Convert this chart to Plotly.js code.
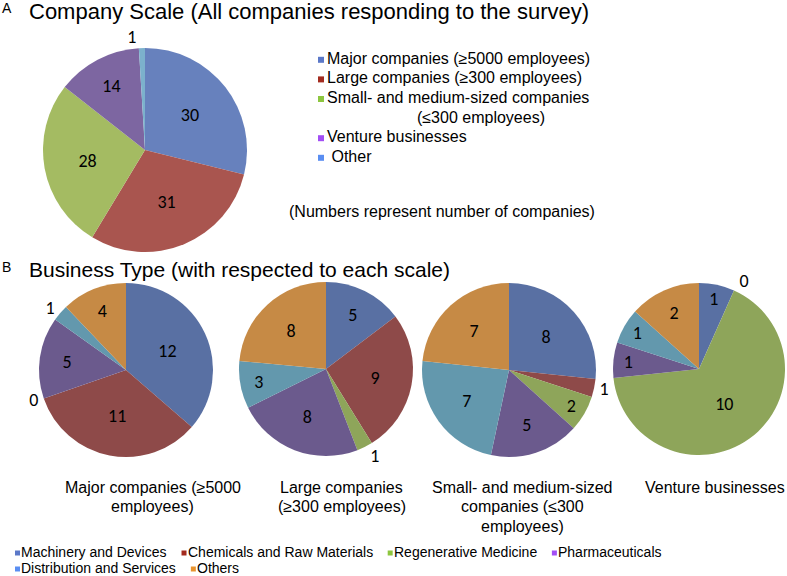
<!DOCTYPE html>
<html>
<head>
<meta charset="utf-8">
<script src="https://cdn.plot.ly/plotly-3.0.1.min.js"></script>
<style>html,body{margin:0;padding:0;background:#fff;}</style>
</head>
<body>
<div id="chart" style="width:787px;height:576px;"></div>
<script>
// ---------------- data ----------------
const scaleLabels = ["Major companies (≥5000 employees)", "Large companies (≥300 employees)",
  "Small- and medium-sized companies (≤300 employees)", "Venture businesses", "Other"];
const scaleCounts = [30, 31, 28, 14, 1];

const businessTypes = ["Machinery and Devices", "Chemicals and Raw Materials", "Regenerative Medicine",
  "Pharmaceuticals", "Distribution and Services", "Others"];
const majorCounts   = [12, 11, 0, 5, 1, 4];
const largeCounts   = [5, 9, 1, 8, 3, 8];
const smeCounts     = [8, 1, 2, 5, 7, 7];
const ventureCounts = [1, 0, 10, 1, 1, 2];

const panelTitles = ["Major companies (≥5000<br>employees)", "Large companies<br>(≥300 employees)",
  "Small- and medium-sized<br>companies (≤300<br>employees)", "Venture businesses"];
const titleA = "Company Scale (All companies responding to the survey)";
const titleB = "Business Type (with respected to each scale)";
const noteA = "(Numbers represent number of companies)";

// ---------------- styles ----------------
const W = 787, H = 576;
const TXT = "'Liberation Sans', Arial, sans-serif";
const NUM = "Carlito, Lato, sans-serif";
const scaleSliceColors = ['#6781BD', '#A9554F', '#A4BB62', '#7D66A1', '#7CB1CC'];
const scaleKeyColors   = ['#5B78C8', '#A32B1F', '#8DC63F', '#A24EF5', '#5A8EF2'];
const typeSliceColors  = ['#5970A3', '#8E4A49', '#8EA55A', '#6B5A8D', '#6398AD', '#C68A45'];
const typeKeyColors    = ['#5B78C8', '#A32B1F', '#8DC63F', '#A24EF5', '#5A8EF2', '#E8942F'];

const px = x => x / W;
const py = y => 1 - y / H;
function dom(cx, cy, r) {
  return {x: [(cx - r) / W, (cx + r) / W], y: [(H - cy - r) / H, (H - cy + r) / H]};
}
function pieTrace(labels, values, colors, domain) {
  const total = values.reduce((a, b) => a + b, 0);
  return {
    type: 'pie', labels: labels, values: values, sort: false, direction: 'clockwise', rotation: 0,
    domain: domain, marker: {colors: colors, line: {width: 0}},
    texttemplate: '%{value}', textposition: values.map(v => v / total < 0.04 ? 'outside' : 'inside'),
    insidetextorientation: 'horizontal',
    textfont: {family: NUM, size: 18, color: '#000'},
    hoverinfo: 'label+value', showlegend: false
  };
}

const data = [
  pieTrace(scaleLabels, scaleCounts, scaleSliceColors, dom(145, 150, 102)),
  pieTrace(businessTypes, majorCounts, typeSliceColors, dom(126, 370, 87)),
  pieTrace(businessTypes, largeCounts, typeSliceColors, dom(326, 369, 87)),
  pieTrace(businessTypes, smeCounts, typeSliceColors, dom(509, 370, 87)),
  pieTrace(businessTypes, ventureCounts, typeSliceColors, dom(699, 369, 86))
];

const annotations = [];
const shapes = [];
function addText(text, x, y, size, xanchor, family) {
  annotations.push({text: text, x: px(x), y: py(y), xref: 'paper', yref: 'paper',
    xanchor: xanchor || 'left', yanchor: 'middle', showarrow: false, borderpad: 0, borderwidth: 0,
    font: {family: family || TXT, size: size, color: '#000'}});
}
function addSquare(x, y, s, color) {
  shapes.push({type: 'rect', xref: 'paper', yref: 'paper', x0: px(x), x1: px(x + s),
    y0: py(y + s / 2), y1: py(y - s / 2), fillcolor: color, line: {width: 0}});
}

// titles
addText('A', 1.5, 8.5, 14);
addText(titleA, 29, 11.5, 22);
addText('B', 1.5, 267, 14);
addText(titleB, 29, 269, 21);

// legend A
const legendAWrap = ["Small- and medium-sized companies", "(≤300 employees)"];
let rowY = 58.3;
scaleLabels.forEach((lab, i) => {
  addSquare(318, rowY + 1.5, 6, scaleKeyColors[i]);
  if (lab.indexOf("Small-") === 0) {
    addText(legendAWrap[0], 327, rowY, 16);
    rowY += 19.6;
    addText(legendAWrap[1], 417, rowY, 16);
  } else {
    addText(lab === 'Other' ? '\u00a0' + lab : lab, 327, rowY, 16);
  }
  rowY += 19.6;
});
addText(noteA, 289, 211.7, 16);

// panel titles under B pies
const panelCx = [152.5, 341.5, 522, 714.5];
panelTitles.forEach((t, i) => {
  t.split('<br>').forEach((line, j) => addText(line, panelCx[i], 487 + j * 19.8, 16, 'center'));
});

// bottom legend (flow layout)
const ctx = document.createElement('canvas').getContext('2d');
ctx.font = "14px 'Liberation Sans', Arial, sans-serif";
let lx = 15, ly = 551.5;
businessTypes.forEach((lab, i) => {
  const w = ctx.measureText(lab).width;
  if (lx + 6.5 + w > W - 5) { lx = 15; ly += 16; }
  addSquare(lx, ly + 1.5, 5, typeKeyColors[i]);
  addText(lab, lx + 6, ly, 14);
  lx += 6.5 + w + 14.5;
});

const layout = {
  width: W, height: H, margin: {l: 0, r: 0, t: 0, b: 0},
  paper_bgcolor: '#fff', plot_bgcolor: '#fff',
  annotations: annotations, shapes: shapes, showlegend: false
};
Plotly.newPlot('chart', data, layout, {displayModeBar: false, staticPlot: true});
</script>
</body>
</html>
